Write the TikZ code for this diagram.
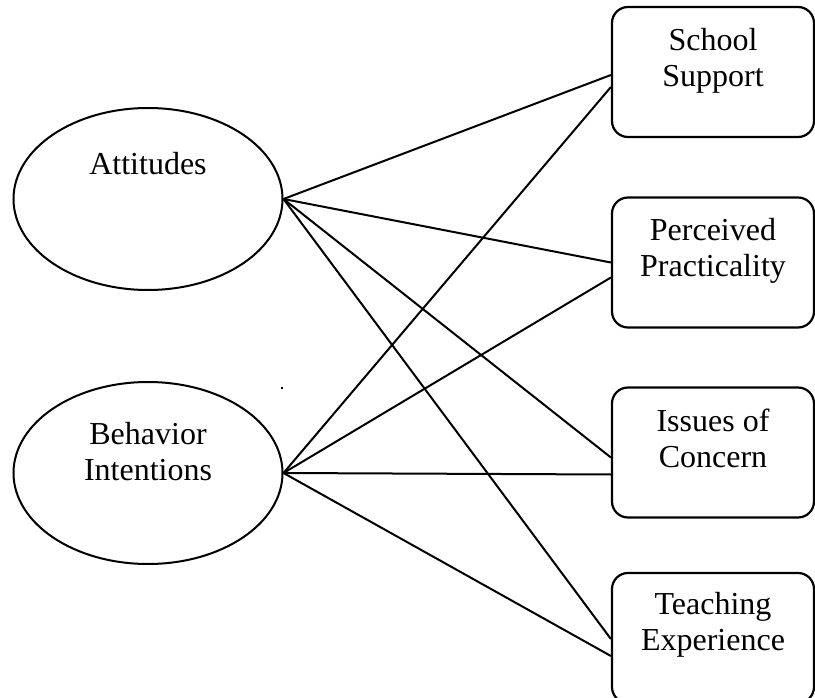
\documentclass[tikz,border=0pt]{standalone}
\usepackage{fontspec}
\setmainfont{Liberation Serif}
\usetikzlibrary{shapes.geometric,positioning}
\tikzset{
    %Define style for ellipses
    construct/.style={
           ellipse,
           draw=black, line width=2pt,
           minimum width=269pt,
           minimum height=182pt,
           inner sep=0pt},
    %Define style for boxes
    factor/.style={
           rectangle,
           rounded corners=16pt,
           draw=black, line width=2.2pt,
           minimum width=202pt,
           minimum height=130pt,
           inner sep=0pt},
    %Define style for texts
    words/.style={
           font=\fontsize{32}{36}\selectfont,
           align=center,
           inner sep=0pt},
    % Define line style
    link/.style={
           every edge/.style={draw, line width=2pt}}
}

\begin{document}
\begin{tikzpicture}[x=1pt,y=-1pt]
\useasboundingbox (0,0) rectangle (815,698);

\node[construct](att) at (148,199){};
\node[construct](bi) at (148,473){};
\node[factor](ss) at (713,72){};
\node[factor](pp) at (713,262.5){};
\node[factor](ic) at (713,452.5){};
\node[factor](te) at (713,638){};

\node[words, below=45pt of att.north](att text){Attitudes};
\node[words, below=41pt of bi.north](bi text){Behavior\\Intentions};
\node[words, below=22pt of ss.north](ss text){School\\Support};
\node[words, below=22pt of pp.north](pp text){Perceived\\Practicality};
\node[words, below=22pt of ic.north](ic text){Issues of\\Concern};
\node[words, below=20pt of te.north](te text){Teaching\\Experience};

% stray mark
\node[fill=black, inner sep=1.2pt](dot) at (282,388){};

 \path[link]
    (att.east) edge ([yshift=-3pt]ss.west)
               edge (pp.west)
               edge ([yshift=-5pt]ic.west)
               edge ([yshift=-1pt]te.west)
    (bi.east)  edge ([yshift=-15pt]ss.west)
               edge ([yshift=-15pt]pp.west)
               edge ([yshift=-22pt]ic.west)
               edge ([yshift=-18pt]te.west);

\end{tikzpicture}
\end{document}
